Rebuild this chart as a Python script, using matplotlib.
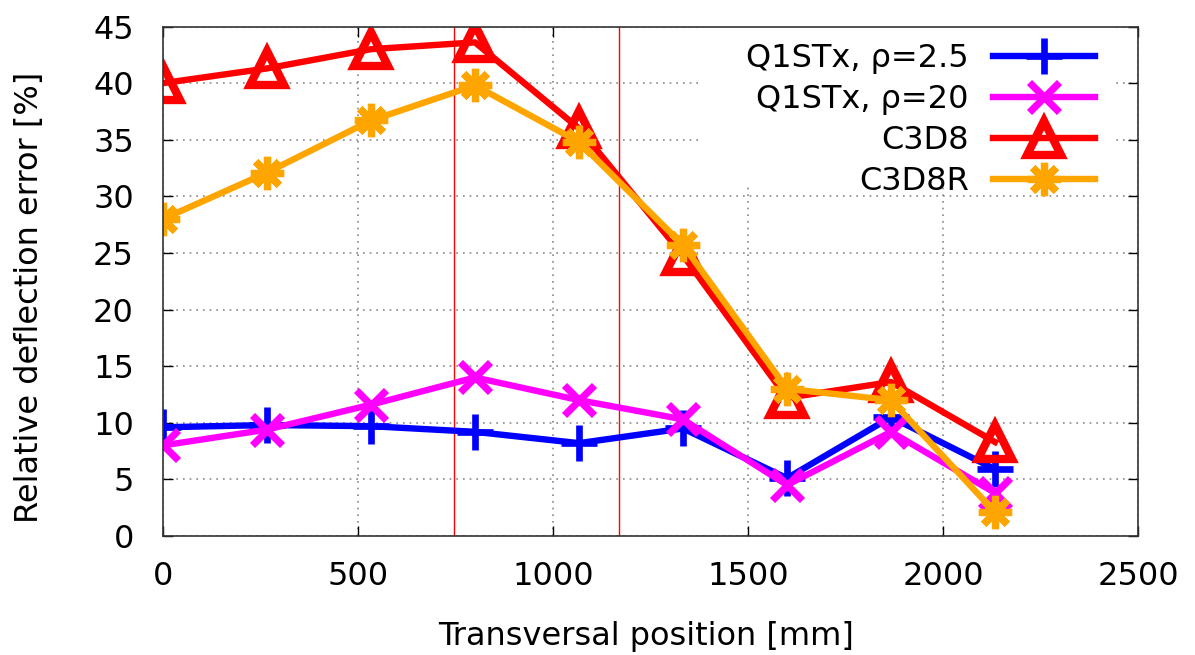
import matplotlib
matplotlib.use("Agg")
import matplotlib.pyplot as plt
from matplotlib.patches import Rectangle

positions = [0, 266.7, 533.3, 800, 1066.7, 1333.3, 1600, 1866.7, 2133.3]
q1stx_25 = [9.6, 9.8, 9.7, 9.2, 8.2, 9.5, 5.1, 10.5, 5.9]
q1stx_20 = [8.0, 9.4, 11.6, 14.0, 12.0, 10.3, 4.5, 9.2, 3.8]
c3d8 = [40.0, 41.3, 43.0, 43.6, 36.0, 24.8, 12.2, 13.6, 8.3]
c3d8r = [28.0, 32.1, 36.7, 39.8, 34.8, 25.7, 13.0, 12.0, 2.1]
labels = ["Q1STx, ρ=2.5", "Q1STx, ρ=20", "C3D8", "C3D8R"]
vlines = [745, 1170]
xticks = [0, 500, 1000, 1500, 2000, 2500]
yticks = [0, 5, 10, 15, 20, 25, 30, 35, 40, 45]

plt.rcParams['font.family'] = ['DejaVu Sans']
fig = plt.figure(figsize=(11.95, 6.55), dpi=100)
ax = fig.add_axes([0.1364, 0.1817, 0.8159, 0.7778])

for v in vlines:
    ax.axvline(v, color='red', lw=1.0, zorder=1)

# white background behind the key (covers grid as in gnuplot)
ax.add_patch(Rectangle((0.551, 0.689), 0.424, 0.311, transform=ax.transAxes,
                       facecolor='white', edgecolor='none', zorder=0.8))

lw = 4.6
ax.plot(positions, q1stx_25, color='#0000ff', lw=lw, marker='+', ms=26, mew=4.8, label=labels[0], zorder=3)
ax.plot(positions, q1stx_20, color='#ff00ff', lw=lw, marker='x', ms=22, mew=5.2, label=labels[1], zorder=3)
ax.plot(positions, c3d8, color='#ff0000', lw=lw, marker='^', ms=24, mew=6, mfc='none', label=labels[2], zorder=3)
ax.plot(positions, c3d8r, color='#ffa500', lw=lw, marker=(8, 2, 0), ms=24, mew=5.2, label=labels[3], zorder=3)

ax.set_xlim(0, 2500)
ax.set_ylim(0, 45)
ax.set_xticks(xticks)
ax.set_yticks(yticks)
ax.grid(True, color='#888888', linestyle=(0, (1, 3)), lw=1.2)
ax.set_axisbelow(True)
ax.tick_params(direction='in', top=True, right=True, length=7, width=1, labelsize=23)
ax.tick_params(axis='x', pad=18)
ax.tick_params(axis='y', pad=21)
for s in ax.spines.values():
    s.set_linewidth(1.2)
    s.set_color('#333333')
    s.set_zorder(4)

ax.set_xlabel("Transversal position [mm]", fontsize=23)
ax.set_ylabel("Relative deflection error [%]", fontsize=23)
ax.xaxis.set_label_coords(0.495, -0.166)
ax.yaxis.set_label_coords(-0.121, 0.468)

leg = ax.legend(loc='upper right', markerfirst=False, frameon=False, fontsize=23,
                handlelength=3.2, handletextpad=0.75, labelspacing=0.32,
                borderpad=0, borderaxespad=0, bbox_to_anchor=(0.956, 0.968))
leg.set_zorder(5)
for t in leg.get_texts():
    t.set_ha('right')
leg._legend_box.align = 'right'

fig.savefig("out.png", dpi=100)
